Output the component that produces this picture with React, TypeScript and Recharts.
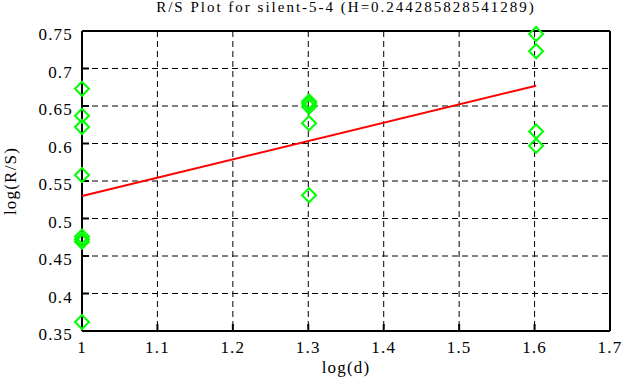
import { ComposedChart, Scatter, XAxis, YAxis, CartesianGrid } from "recharts";

const title = "R/S Plot for silent-5-4 (H=0.244285828541289)";

// log(d) values where the R/S samples sit
const logD = [1, 1.30103, 1.60206];

// log(R/S) samples for each log(d)
const rsAt1 = [0.673, 0.637, 0.622, 0.558, 0.476, 0.472, 0.469, 0.362];
const rsAt13 = [0.656, 0.653, 0.649, 0.627, 0.531];
const rsAt16 = [0.746, 0.723, 0.616, 0.597];

// fitted line ends
const fitX = [1, 1.60206];
const fitY = [0.53, 0.677];

const xTicks = [1, 1.1, 1.2, 1.3, 1.4, 1.5, 1.6, 1.7];
const yTicks = [0.35, 0.4, 0.45, 0.5, 0.55, 0.6, 0.65, 0.7, 0.75];

const points = [rsAt1, rsAt13, rsAt16].flatMap((vals, i) =>
  vals.map((v) => ({ x: logD[i], y: v }))
);
const fit = fitX.map((x, i) => ({ x, y: fitY[i] }));

const font = "'Liberation Serif', 'Times New Roman', serif";
const tickText = { fill: "#000", fontSize: 17, fontFamily: font, letterSpacing: 1.2 };

function Diamond(props: any) {
  const { cx, cy } = props;
  if (cx == null || cy == null) return null;
  const r = 7;
  return (
    <path
      d={`M${cx},${cy - r} L${cx + r},${cy} L${cx},${cy + r} L${cx - r},${cy} Z`}
      fill="none"
      stroke="#00ff00"
      strokeWidth={2}
    />
  );
}

export default function App() {
  return (
    <div style={{ position: "absolute", left: 0, top: 0, background: "#fff" }}>
      <ComposedChart width={626} height={387} margin={{ top: 0, right: 0, bottom: 0, left: 0 }}>
        <CartesianGrid
          stroke="#000"
          strokeDasharray="6 4"
          horizontalValues={yTicks}
          verticalValues={xTicks}
        />
        <XAxis
          dataKey="x"
          type="number"
          domain={[1, 1.7]}
          ticks={xTicks}
          height={56}
          stroke="#000"
          axisLine={{ strokeWidth: 2 }}
          tickLine={{ strokeWidth: 2 }}
          tickSize={-7}
          tickMargin={17}
          tick={tickText}
          label={{ value: "log(d)", position: "insideBottom", offset: 14, fill: "#000", fontSize: 17, fontFamily: font, letterSpacing: 1.2 }}
        />
        <XAxis
          xAxisId="top"
          orientation="top"
          type="number"
          domain={[1, 1.7]}
          ticks={xTicks}
          height={31}
          stroke="#000"
          axisLine={{ strokeWidth: 2 }}
          tickLine={{ strokeWidth: 2 }}
          tickSize={-7}
          tick={false}
          label={{ value: title, position: "insideTop", offset: 1, fill: "#000", fontSize: 15, fontFamily: font, letterSpacing: 2 }}
        />
        <YAxis
          dataKey="y"
          type="number"
          domain={[0.35, 0.75]}
          ticks={yTicks}
          width={82}
          stroke="#000"
          axisLine={{ strokeWidth: 2 }}
          tickLine={{ strokeWidth: 2 }}
          tickSize={-7}
          tickMargin={16}
          tick={{ ...tickText, dy: 3 }}
          label={{ value: "log(R/S)", angle: -90, position: "center", dx: -31, fill: "#000", fontSize: 17, fontFamily: font, letterSpacing: 1.2 }}
        />
        <YAxis
          yAxisId="right"
          orientation="right"
          type="number"
          domain={[0.35, 0.75]}
          ticks={yTicks}
          width={16}
          stroke="#000"
          axisLine={{ strokeWidth: 2 }}
          tickLine={{ strokeWidth: 2 }}
          tickSize={-7}
          tick={false}
        />
        <Scatter data={points} shape={<Diamond />} isAnimationActive={false} />
        <Scatter
          data={fit}
          line={{ stroke: "#ff0000", strokeWidth: 2 }}
          shape={() => null}
          isAnimationActive={false}
        />
      </ComposedChart>
    </div>
  );
}
